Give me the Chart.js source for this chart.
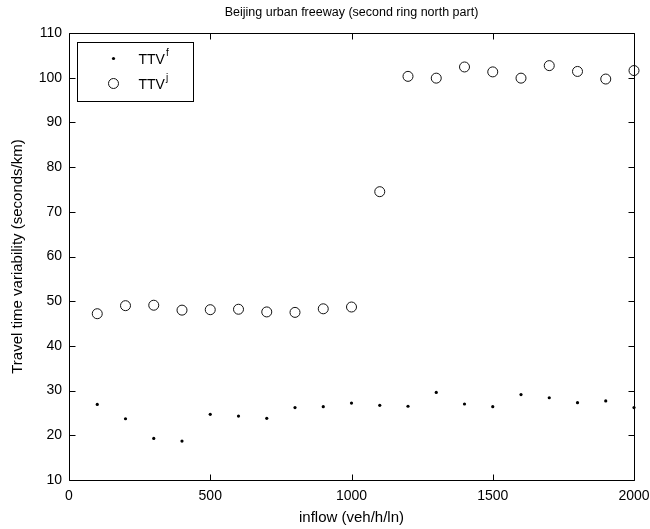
<!DOCTYPE html>
<html>
<head>
<meta charset="utf-8">
<script src="https://cdn.jsdelivr.net/npm/chart.js@4.4.0/dist/chart.umd.min.js"></script>
<style>
  html, body { margin: 0; padding: 0; background: #fff; }
</style>
</head>
<body>
<canvas id="myChart" width="650" height="529"></canvas>
<script>
// inflow (veh/h/ln)
const inflow = [100, 200, 300, 400, 500, 600, 700, 800, 900, 1000,
  1100, 1200, 1300, 1400, 1500, 1600, 1700, 1800, 1900, 2000];
// TTV^f (free flow), seconds/km
const ttvFree = [26.9, 23.7, 19.3, 18.7, 24.7, 24.3, 23.8, 26.2, 26.4, 27.2,
  26.7, 26.5, 29.6, 27.0, 26.4, 29.1, 28.4, 27.3, 27.7, 26.2];
// TTV^j (jam), seconds/km
const ttvJam = [47.2, 49.0, 49.1, 48.0, 48.1, 48.2, 47.6, 47.5, 48.3, 48.7,
  74.5, 100.3, 99.9, 102.4, 101.3, 99.9, 102.7, 101.4, 99.7, 101.6];
const xTicks = [0, 500, 1000, 1500, 2000];
const yTicks = [10, 20, 30, 40, 50, 60, 70, 80, 90, 100, 110];

const FONT = "'Liberation Sans', Arial, Helvetica, sans-serif";

// MATLAB-like box with inward ticks on all four sides, plus the legend
const boxPlugin = {
  id: "box",
  afterDatasetsDraw(chart) {
    const ctx = chart.ctx;
    const a = chart.chartArea;
    const xs = chart.scales.x, ys = chart.scales.y;
    const L = Math.round(a.left) + 0.5, R = Math.round(a.right) + 0.5;
    const T = Math.round(a.top) + 0.5, B = Math.round(a.bottom) + 0.5;
    ctx.save();
    ctx.strokeStyle = "#000";
    ctx.lineWidth = 1;
    ctx.beginPath();
    ctx.rect(L, T, R - L, B - T);
    xTicks.forEach(v => {
      const px = Math.round(xs.getPixelForValue(v)) + 0.5;
      ctx.moveTo(px, B); ctx.lineTo(px, B - 6);
      ctx.moveTo(px, T); ctx.lineTo(px, T + 6);
    });
    yTicks.forEach(v => {
      const py = Math.round(ys.getPixelForValue(v)) + 0.5;
      ctx.moveTo(L, py); ctx.lineTo(L + 6, py);
      ctx.moveTo(R, py); ctx.lineTo(R - 6, py);
    });
    ctx.stroke();

    // legend
    const lx = L + 8, ly = T + 9, lw = 116, lh = 59;
    ctx.fillStyle = "#fff";
    ctx.fillRect(lx, ly, lw, lh);
    ctx.strokeRect(lx, ly, lw, lh);
    const ds = chart.data.datasets;
    const rows = [ly + 16, ly + 41];
    ["f", "j"].forEach((sup, i) => {
      ctx.fillStyle = ds[i].backgroundColor;
      ctx.strokeStyle = ds[i].borderColor;
      ctx.lineWidth = ds[i].borderWidth || 1;
      Chart.helpers.drawPoint(ctx, {
        pointStyle: "circle",
        radius: ds[i].pointRadius,
        borderWidth: ds[i].borderWidth
      }, lx + 36, rows[i]);
      ctx.fillStyle = "#000";
      ctx.textBaseline = "alphabetic";
      ctx.textAlign = "left";
      ctx.font = "14px " + FONT;
      ctx.fillText("TTV", lx + 61, rows[i] + 5);
      const w = ctx.measureText("TTV").width;
      ctx.font = "10px " + FONT;
      ctx.fillText(sup, lx + 61 + w + 1, rows[i] - 3);
    });
    ctx.restore();
  }
};

const data = {
  datasets: [
    {
      label: "TTVf",
      data: inflow.map((x, i) => ({ x: x, y: ttvFree[i] })),
      pointStyle: "circle",
      pointRadius: 1.6,
      borderWidth: 0,
      backgroundColor: "#000",
      borderColor: "#000",
      clip: false
    },
    {
      label: "TTVj",
      data: inflow.map((x, i) => ({ x: x, y: ttvJam[i] })),
      pointStyle: "circle",
      pointRadius: 5,
      borderWidth: 1,
      backgroundColor: "rgba(0,0,0,0)",
      borderColor: "#111",
      clip: false
    }
  ]
};

const config = {
  type: "scatter",
  data: data,
  options: {
    responsive: false,
    animation: false,
    devicePixelRatio: 1,
    layout: { padding: { left: 0, right: 0, top: 0, bottom: 0 } },
    plugins: {
      legend: { display: false },
      tooltip: { enabled: false },
      title: {
        display: true,
        fullSize: false,
        text: "Beijing urban freeway (second ring north part)",
        color: "#000",
        font: { family: FONT, size: 12.5, weight: "normal" },
        padding: { top: 5, bottom: 13 }
      }
    },
    scales: {
      x: {
        type: "linear",
        min: 0,
        max: 2000,
        afterBuildTicks: s => { s.ticks = xTicks.map(v => ({ value: v })); },
        afterFit: s => { s.height = 49; s.paddingLeft = 0; s.paddingRight = 16; },
        grid: { display: false, drawTicks: false },
        border: { display: false },
        ticks: {
          color: "#000",
          padding: 8,
          font: { family: FONT, size: 14 },
          callback: v => String(v)
        },
        title: {
          display: true,
          text: "inflow (veh/h/ln)",
          color: "#000",
          font: { family: FONT, size: 15 },
          padding: { top: 0, bottom: 2 }
        }
      },
      y: {
        type: "linear",
        min: 10,
        max: 110,
        afterBuildTicks: s => { s.ticks = yTicks.map(v => ({ value: v })); },
        afterFit: s => { s.width = 69; },
        grid: { display: false, drawTicks: false },
        border: { display: false },
        ticks: {
          color: "#000",
          padding: 7,
          font: { family: FONT, size: 14 },
          callback: v => String(v)
        },
        title: {
          display: true,
          text: "Travel time variability (seconds/km)",
          color: "#000",
          font: { family: FONT, size: 15 },
          padding: { top: 9, bottom: 0 }
        }
      }
    }
  },
  plugins: [boxPlugin]
};

const myChart = new Chart(document.getElementById("myChart"), config);
</script>
</body>
</html>
